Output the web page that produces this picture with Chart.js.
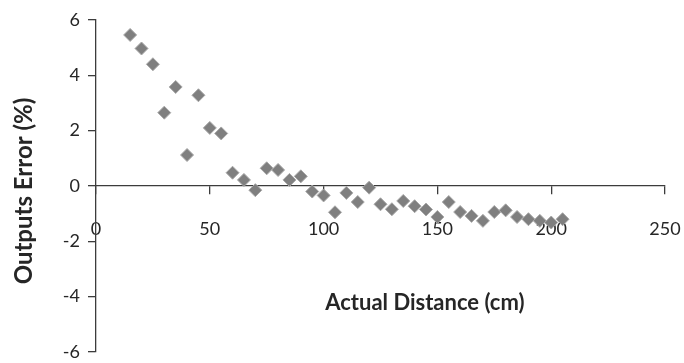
<!DOCTYPE html>
<html>
<head>
<meta charset="utf-8">
<script src="https://cdn.jsdelivr.net/npm/chart.js@4"></script>
<style>
  html, body { margin: 0; padding: 0; background: #fff; }
  #wrap { width: 684px; height: 363px; }
</style>
</head>
<body>
<div id="wrap"><canvas id="myChart" width="684" height="363"></canvas></div>
<script>
// measured distances (cm) and the output error (%) at each one
const distances = [15, 20, 25, 30, 35, 40, 45, 50, 55, 60, 65, 70, 75, 80, 85, 90, 95, 100,
  105, 110, 115, 120, 125, 130, 135, 140, 145, 150, 155, 160, 165, 170, 175, 180, 185, 190, 195, 200, 205]
const errors = [5.46, 4.97, 4.4, 2.65, 3.58, 1.12, 3.28, 2.1, 1.9, 0.48, 0.22, -0.15, 0.64, 0.58, 0.22, 0.35, -0.2, -0.34,
  -0.95, -0.25, -0.58, -0.06, -0.66, -0.84, -0.54, -0.73, -0.85, -1.12, -0.58, -0.94, -1.08, -1.26, -0.94, -0.88, -1.12, -1.2, -1.26, -1.32, -1.2]
const xTicks = [0, 50, 100, 150, 200, 250]
const yTicks = [-6, -4, -2, 0, 2, 4, 6]
const xTitle = 'Actual Distance (cm)'
const yTitle = 'Outputs Error (%)'

const points = distances.map((d, i) => ({ x: d, y: errors[i] }))

const textColor = '#262626'
const lineColor = '#3c3c3c'

// axis titles drawn by hand so they sit where the original has them
const titlePlugin = {
  id: 'titles',
  afterDraw(chart) {
    const ctx = chart.ctx
    const area = chart.chartArea
    ctx.save()
    ctx.fillStyle = textColor
    ctx.textAlign = 'center'
    ctx.textBaseline = 'middle'
    ctx.font = 'bold 22px Lato'
    ctx.fillText(xTitle, area.left + (area.right - area.left) * 0.578, area.top + 283)
    ctx.font = 'bold 24px Lato'
    ctx.translate(24, (area.top + area.bottom) / 2 + 5)
    ctx.rotate(-Math.PI / 2)
    ctx.fillText(yTitle, 0, 0)
    ctx.restore()
  }
}

const config = {
  type: 'scatter',
  data: {
    datasets: [{
      label: 'Error',
      data: points,
      pointStyle: 'rectRot',
      pointRadius: 6.5,
      pointHoverRadius: 6.5,
      backgroundColor: '#7f7f7f',
      borderColor: '#a8a8a8',
      borderWidth: 1
    }]
  },
  options: {
    responsive: false,
    animation: false,
    layout: { padding: { left: 0, right: 19, top: 20, bottom: 11 } },
    plugins: { legend: { display: false }, tooltip: { enabled: false } },
    scales: {
      x: {
        type: 'linear',
        position: { y: 0 },
        min: xTicks[0],
        max: xTicks[xTicks.length - 1],
        afterBuildTicks(scale) { scale.ticks = xTicks.map(v => ({ value: v })) },
        afterFit(scale) { scale.paddingLeft = 0; scale.paddingRight = 0 },
        border: { color: lineColor, width: 1.3 },
        grid: { drawOnChartArea: false, tickLength: 8, color: lineColor, lineWidth: 1.3 },
        ticks: { color: textColor, font: { family: 'Lato', size: 18 }, padding: 24, maxRotation: 0 }
      },
      y: {
        type: 'linear',
        min: yTicks[0],
        max: yTicks[yTicks.length - 1],
        afterBuildTicks(scale) { scale.ticks = yTicks.map(v => ({ value: v })) },
        afterFit(scale) { scale.width = 96; scale.paddingTop = 0; scale.paddingBottom = 0 },
        border: { color: lineColor, width: 1.3 },
        grid: { drawOnChartArea: false, tickLength: 8, color: lineColor, lineWidth: 1.3 },
        ticks: { color: textColor, font: { family: 'Lato', size: 18 }, padding: 8 }
      }
    }
  },
  plugins: [titlePlugin]
}

const myChart = new Chart(document.getElementById('myChart'), config)
</script>
</body>
</html>
